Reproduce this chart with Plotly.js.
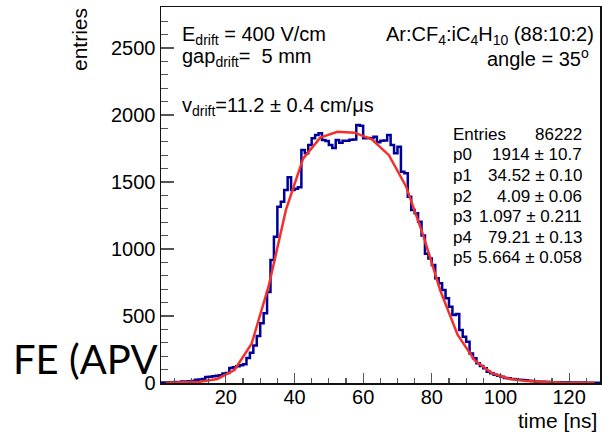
<!DOCTYPE html>
<html>
<head>
<meta charset="utf-8">
<script src="https://cdn.plot.ly/plotly-3.0.1.min.js"></script>
<style>
html,body{margin:0;padding:0;background:#fff;}
#chart{width:602px;height:432px;}
</style>
</head>
<body>
<div id="chart"></div>
<script>
// ---- data ----
const binStart = 1;      // lower edge of first bin [ns]
const binWidth = 1;      // bin width [ns]
const counts = [
  3, 4, 5, 6, 7, 8, 11, 12, 13, 14,
  24, 27, 30, 44, 47, 50, 55, 58, 70, 74,
  112, 118, 125, 133, 140, 186, 225, 280, 350, 445,
  520, 680, 918, 1092, 1316, 1353, 1440, 1535, 1440, 1450,
  1460, 1739, 1714, 1776, 1826, 1851, 1863, 1813, 1806, 1776,
  1754, 1813, 1793, 1808, 1808, 1815, 1818, 1925, 1920, 1826,
  1828, 1826, 1838, 1796, 1808, 1810, 1851, 1776, 1714, 1764,
  1577, 1565, 1390, 1291, 1266, 1204, 1100, 965, 930, 880,
  781, 744, 694, 632, 569, 507, 515, 395, 345, 308,
  221, 184, 147, 127, 110, 84, 72, 62, 55, 47,
  38, 35, 30, 28, 25, 22, 20, 16, 14, 12,
  10, 9, 8, 7, 6, 6, 5, 4, 5, 3,
  3, 4, 2, 3, 2, 2, 1, 2
];
const fitX = [2.5, 7.5, 12.5, 17.5, 22.5, 27.5, 32.5, 37.5, 42.5, 47.5, 52.5, 57.5, 62.5,
              67.5, 72.5, 77.5, 82.5, 87.5, 92.5, 97.5, 102.5, 107.5, 112.5, 117.5, 122.5, 127.5];
const fitY = [2, 4, 10, 30, 97, 293, 726, 1292, 1674, 1831, 1875, 1868, 1818,
              1700, 1467, 1102, 688, 361, 168, 74, 32, 14, 6, 3, 2, 1.5];

const xTickVals = [20, 40, 60, 80, 100, 120];
const yTickVals = [0, 500, 1000, 1500, 2000, 2500];

const statLabels = ["Entries", "p0", "p1", "p2", "p3", "p4", "p5"];
const statValues = ["86222", "1914 ± 10.7", "34.52 ± 0.10", "4.09 ± 0.06",
                    "1.097 ± 0.211", "79.21 ± 0.13", "5.664 ± 0.058"];

// ---- build step histogram from bins ----
const histX = [], histY = [];
counts.forEach((c, i) => { histX.push(binStart + i * binWidth); histY.push(c); });
histX.push(binStart + counts.length * binWidth); histY.push(counts[counts.length - 1]);

// ---- geometry helpers (pixel -> paper) ----
const L = 161, R = 2, T = 7, B = 49, W = 602, H = 432;
const PW = W - L - R, PH = H - T - B;
const px = x => (x - L) / PW;
const py = y => (H - B - y) / PH;

const font = "Liberation Sans, Arial, Helvetica, sans-serif";

const annotations = [];
function ann(text, x, y, xanchor, size, extra) {
  annotations.push(Object.assign({
    text: text, xref: 'paper', yref: 'paper', x: px(x), y: py(y),
    xanchor: xanchor, yanchor: 'middle', showarrow: false,
    font: {family: font, size: size, color: '#000'}
  }, extra || {}));
}
// cropped slide text at the left (drawn first, behind the rest)
ann("FE (APV", 11, 359, 'left', 40, {font: {family: "Lato, 'Noto Sans', sans-serif", size: 40, color: '#000'}});
ann("E<sub>drift</sub> = 400 V/cm", 180, 35, 'left', 20);
ann("gap<sub>drift</sub>=  5 mm", 180, 58, 'left', 20);
ann("v<sub>drift</sub>=11.2 ± 0.4 cm/μs", 180, 106, 'left', 20);
ann("Ar:CF<sub>4</sub>:iC<sub>4</sub>H<sub>10</sub> (88:10:2)", 596, 35, 'right', 20);
ann("angle = 35<sup>o</sup>", 591, 57, 'right', 20);
const statY = [134, 155, 175.5, 196, 216.5, 237, 257.5];
statLabels.forEach((s, i) => {
  ann(s, 451, statY[i], 'left', 17);
  ann(statValues[i], 584, statY[i], 'right', 17);
});
// axis titles
ann("entries", 80, 40, 'center', 21, {textangle: -90});
ann("time [ns]", 599, 421, 'right', 21);

const data = [
  {x: histX, y: histY, type: 'scatter', mode: 'lines',
   line: {shape: 'hv', color: '#000099', width: 2.5}, hoverinfo: 'skip'},
  {x: fitX, y: fitY, type: 'scatter', mode: 'lines',
   line: {color: '#f2322a', width: 2.5}, hoverinfo: 'skip'}
];

const layout = {
  width: W, height: H,
  margin: {l: L, r: R, t: T, b: B, pad: 0},
  paper_bgcolor: 'rgba(0,0,0,0)', plot_bgcolor: 'rgba(0,0,0,0)',
  showlegend: false,
  font: {family: font, size: 20, color: '#000'},
  xaxis: {
    range: [1.1, 129.0], tickmode: 'array', tickvals: xTickVals,
    ticks: 'inside', ticklen: 10, tickwidth: 1.2, tickcolor: '#555',
    ticklabelstandoff: -5,
    minor: {tickmode: 'linear', tick0: 0, dtick: 5, ticks: 'inside', ticklen: 5, tickwidth: 1.2, tickcolor: '#555'},
    showgrid: false, zeroline: false, showline: true, mirror: true,
    linecolor: '#111', linewidth: 1.5,
    tickfont: {family: font, size: 20, color: '#000'}, automargin: false
  },
  yaxis: {
    range: [0, 2806], tickmode: 'array', tickvals: yTickVals,
    ticks: 'inside', ticklen: 13, tickwidth: 1.2, tickcolor: '#555',
    minor: {tickmode: 'linear', tick0: 0, dtick: 100, ticks: 'inside', ticklen: 7, tickwidth: 1.2, tickcolor: '#555'},
    showgrid: false, zeroline: false, showline: true, mirror: true,
    linecolor: '#111', linewidth: 1.5,
    tickfont: {family: font, size: 20, color: '#000'}, automargin: false
  },
  annotations: annotations
};

Plotly.newPlot('chart', data, layout, {staticPlot: true, displayModeBar: false});
</script>
</body>
</html>
